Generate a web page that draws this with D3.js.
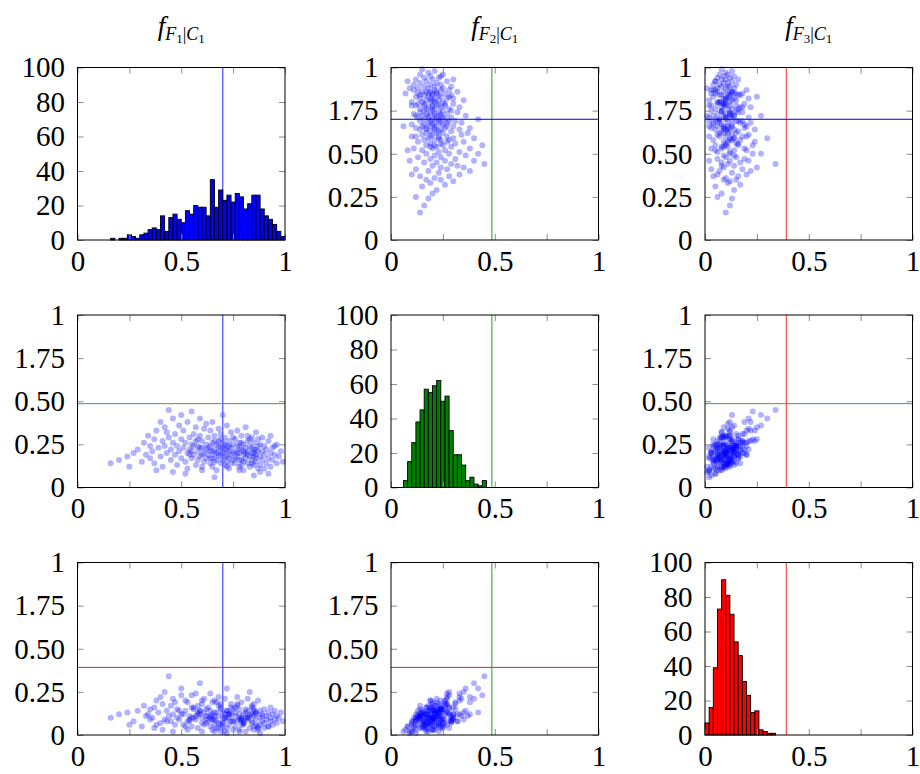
<!DOCTYPE html>
<html><head><meta charset="utf-8">
<script src="https://cdn.jsdelivr.net/npm/d3@7"></script>
<style>body{margin:0;background:#fff}</style>
</head><body>
<svg id="chart" width="920" height="774"></svg>
<script>
// ---------- data ----------
const featureSubscripts = ["1", "2", "3"];
const classSubscript = "1";
const thresholds = [0.70, 0.486, 0.392];
const binWidth = 0.02;
const histStarts = [0.16, 0.06, 0.0];
const f1Counts = [1,0,1,1,3,2,1,3,4,6,7,6,14,5,13,15,12,10,17,15,20,19,19,14,35,19,29,23,26,22,27,25,18,21,26,26,18,14,12,9,5,2];
const f2Counts = [4,15,26,38,45,57,55,59,62,50,53,33,19,19,13,4,6,2,1,4];
const f3Counts = [7,16,39,73,90,81,70,54,46,31,23,13,14,3,2,1,1];
const xTickValues = [0, 0.25, 0.5, 0.75, 1];
const xTickLabels = ["0", "", "0.5", "", "1"];
const histYTicks = [0, 20, 40, 60, 80, 100];
const histYLabels = ["0", "20", "40", "60", "80", "100"];
const scatterYTicks = [0, 0.25, 0.5, 0.75, 1];
const scatterYLabels = ["0", "0.25", "0.50", "1.75", "1"];

const f1Values = [
0.16,0.20,0.24,0.25,0.27,0.29,0.31,0.32,0.33,0.34,0.35,0.35,
0.36,0.37,0.37,0.38,0.39,0.40,0.40,0.41,0.41,0.42, 0.42,0.43,0.44,0.44,0.45,0.45,0.46,0.46,0.47,0.47, 0.48,0.48,0.49,0.49,0.50,0.50,0.50,0.38,0.43,0.46,
0.51,0.51,0.52,0.52,0.53,0.53,0.53,0.54,0.54,0.55, 0.55,0.55,0.56,0.56,0.57,0.57,0.57,0.58,0.58,0.58, 0.59,0.59,0.59,0.60,0.60,0.60,0.61,0.61,0.61,0.62, 0.62,0.62,0.52,0.54,0.56,0.58,0.60,0.62,0.55,0.59,
0.63,0.63,0.64,0.64,0.64,0.64,0.65,0.65,0.65,0.65, 0.66,0.66,0.66,0.67,0.67,0.67,0.68,0.68,0.68,0.68, 0.69,0.69,0.69,0.70,0.70,0.70,0.70,0.71,0.71,0.71, 0.72,0.72,0.72,0.72,0.73,0.73,0.73,0.74,0.74,0.74, 0.75,0.75,0.75,0.63,0.66,0.69,0.71,0.73,0.67,0.70, 0.64,0.68,0.72,0.74,0.65,0.69,0.71,0.73,0.66,0.75,
0.76,0.76,0.76,0.77,0.77,0.77,0.78,0.78,0.78,0.79, 0.79,0.79,0.80,0.80,0.80,0.81,0.81,0.81,0.82,0.82, 0.82,0.83,0.83,0.83,0.84,0.84,0.84,0.85,0.85,0.85, 0.86,0.86,0.86,0.87,0.87,0.87,0.76,0.78,0.80,0.82, 0.84,0.86,0.77,0.79,0.81,0.83,0.85,0.87,0.79,0.84, 0.80,0.86,0.78,0.82,0.85,
0.88,0.88,0.88,0.89,0.89,0.89,0.90,0.90,0.91,0.91, 0.92,0.92,0.93,0.93,0.94,0.94,0.95,0.96,0.96,0.97, 0.98,0.99,0.90,0.93,0.95,
0.85,0.66,0.92,0.88,0.78,0.72,0.60];
const f2Values = [
0.14,0.16,0.18,0.12,0.20,0.22,0.15,0.26,0.19,0.30,0.17,0.24,
0.21,0.28,0.14,0.33,0.23,0.38,0.18,0.27,0.12,0.24, 0.35,0.20,0.45,0.29,0.16,0.22,0.40,0.26,0.19,0.31, 0.13,0.24,0.36,0.21,0.28,0.17,0.42,0.10,0.32,0.09,
0.23,0.33,0.15,0.26,0.20,0.38,0.11,0.29,0.22,0.17, 0.44,0.25,0.31,0.19,0.13,0.27,0.35,0.21,0.16,0.24, 0.30,0.18,0.40,0.23,0.12,0.27,0.20,0.34,0.15,0.25, 0.22,0.37,0.08,0.19,0.24,0.28,0.19,0.17,0.21,0.23,
0.19,0.29,0.14,0.24,0.33,0.21,0.17,0.26,0.12,0.38, 0.22,0.19,0.30,0.16,0.25,0.10,0.21,0.34,0.18,0.27, 0.14,0.23,0.31,0.20,0.26,0.16,0.42,0.22,0.13,0.29, 0.18,0.24,0.36,0.15,0.21,0.27,0.11,0.19,0.32,0.23, 0.16,0.25,0.20,0.23,0.27,0.19,0.25,0.17,0.20,0.23, 0.17,0.24,0.21,0.14,0.21,0.28,0.18,0.24,0.15,0.29,
0.21,0.14,0.28,0.18,0.24,0.33,0.12,0.20,0.26,0.16, 0.22,0.30,0.19,0.25,0.10,0.17,0.23,0.35,0.14,0.21, 0.27,0.18,0.24,0.12,0.20,0.29,0.16,0.22,0.13,0.26, 0.19,0.32,0.15,0.21,0.24,0.11,0.17,0.23,0.15,0.19, 0.23,0.17,0.20,0.26,0.20,0.28,0.18,0.28,0.13,0.14, 0.21,0.22,0.16,0.30,0.20,
0.18,0.25,0.13,0.21,0.29,0.16,0.19,0.24,0.14,0.22, 0.17,0.27,0.20,0.12,0.23,0.16,0.19,0.14,0.25,0.18, 0.21,0.15,0.11,0.30,0.24,
0.07,0.06,0.08,0.09,0.10,0.12,0.10];
const f3Values = [
0.10,0.12,0.13,0.06,0.08,0.14,0.05,0.17,0.11,0.12,0.09,0.15,
0.10,0.16,0.04,0.20,0.13,0.22,0.07,0.18,0.03,0.09, 0.25,0.14,0.34,0.11,0.08,0.17,0.21,0.12,0.06,0.19, 0.10,0.15,0.14,0.09,0.23,0.12,0.27,0.06,0.08,0.02,
0.06,0.12,0.14,0.20,0.03,0.19,0.08,0.09,0.11,0.16, 0.23,0.05,0.15,0.10,0.11,0.24,0.09,0.13,0.04,0.17, 0.12,0.14,0.30,0.07,0.10,0.18,0.06,0.21,0.13,0.09, 0.15,0.11,0.05,0.08,0.16,0.12,0.20,0.07,0.10,0.14,
0.16,0.08,0.11,0.05,0.24,0.14,0.03,0.19,0.09,0.12, 0.06,0.20,0.09,0.13,0.04,0.08,0.17,0.11,0.07,0.22, 0.15,0.02,0.18,0.10,0.07,0.05,0.13,0.21,0.12,0.10, 0.14,0.09,0.27,0.04,0.12,0.06,0.10,0.16,0.08,0.18, 0.08,0.15,0.03,0.11,0.13,0.06,0.10,0.12,0.19,0.07, 0.10,0.04,0.14,0.12,0.09,0.16,0.02,0.13,0.11,0.08,
0.05,0.11,0.13,0.17,0.08,0.22,0.09,0.03,0.15,0.06, 0.19,0.10,0.12,0.06,0.07,0.02,0.15,0.13,0.10,0.09, 0.21,0.04,0.11,0.12,0.16,0.07,0.08,0.05,0.14,0.18, 0.09,0.12,0.13,0.03,0.20,0.05,0.16,0.10,0.07,0.14, 0.12,0.06,0.18,0.09,0.10,0.25,0.11,0.04,0.09,0.17, 0.08,0.13,0.12,0.10,0.15,
0.10,0.14,0.06,0.12,0.08,0.11,0.07,0.15,0.09,0.11, 0.05,0.13,0.10,0.08,0.12,0.06,0.09,0.11,0.07,0.10, 0.13,0.08,0.04,0.16,0.14,
0.03,0.02,0.05,0.01,0.02,0.01,0.02];

// ---------- styles / layout ----------
const featureValues = [f1Values, f2Values, f3Values];
const histCounts = [f1Counts, f2Counts, f3Counts];
const histColors = ["#0000ff", "#008000", "#ff0000"];
const vLineColors = ["#5555ff", "#55b455", "#ff5a5a"];
const hLineColors = ["#0000c0", "#44a044", "#d42a2a"];
const serif = "'Liberation Serif','Times New Roman',serif";
const colX = [77.5, 391, 705], rowY = [67.5, 315, 562.5];
const W = 207.5, H = 172.5;
const tickLen = 6;

const svg = d3.select("#chart");

for (let i = 0; i < 3; i++) {
  for (let j = 0; j < 3; j++) {
    const isHist = i === j;
    const g = svg.append("g");
    const x = d3.scaleLinear().domain([0, 1]).range([colX[j], colX[j] + W]);
    const y = d3.scaleLinear().domain(isHist ? [0, 100] : [0, 1]).range([rowY[i] + H, rowY[i]]);
    const yTicks = isHist ? histYTicks : scatterYTicks;
    const yLabels = isHist ? histYLabels : scatterYLabels;

    const vline = () => g.append("line")
      .attr("x1", x(thresholds[j])).attr("x2", x(thresholds[j]))
      .attr("y1", rowY[i]).attr("y2", rowY[i] + H)
      .attr("stroke", vLineColors[j]).attr("stroke-width", 1.3);

    if (isHist) {
      vline();
      const bins = histCounts[j].map((c, k) => ({x0: histStarts[j] + k * binWidth, c}));
      g.selectAll("rect.bar").data(bins).join("rect").attr("class", "bar")
        .attr("x", d => x(d.x0))
        .attr("width", d => x(d.x0 + binWidth) - x(d.x0))
        .attr("y", d => y(d.c))
        .attr("height", d => y(0) - y(d.c))
        .attr("fill", histColors[j])
        .attr("stroke", "#000").attr("stroke-width", 0.9);
    } else {
      g.selectAll("circle").data(d3.range(f1Values.length)).join("circle")
        .attr("cx", k => x(featureValues[j][k]))
        .attr("cy", k => y(featureValues[i][k]))
        .attr("r", 3)
        .attr("fill", "#0000ff").attr("fill-opacity", 0.3);
      vline();
      g.append("line")
        .attr("x1", colX[j]).attr("x2", colX[j] + W)
        .attr("y1", y(thresholds[i])).attr("y2", y(thresholds[i]))
        .attr("stroke", hLineColors[i]).attr("stroke-width", 1);
    }

    // axes (inward ticks)
    const bottom = g.append("g").attr("transform", `translate(0,${rowY[i] + H})`)
      .call(d3.axisBottom(x).tickValues(xTickValues).tickFormat((d, k) => xTickLabels[k])
        .tickSizeInner(-tickLen).tickSizeOuter(0).tickPadding(10));
    const top = g.append("g").attr("transform", `translate(0,${rowY[i]})`)
      .call(d3.axisTop(x).tickValues(xTickValues).tickFormat("")
        .tickSizeInner(-tickLen).tickSizeOuter(0));
    const left = g.append("g").attr("transform", `translate(${colX[j]},0)`)
      .call(d3.axisLeft(y).tickValues(yTicks).tickFormat((d, k) => yLabels[k])
        .tickSizeInner(-tickLen).tickSizeOuter(0).tickPadding(12.5));
    const right = g.append("g").attr("transform", `translate(${colX[j] + W},0)`)
      .call(d3.axisRight(y).tickValues(yTicks).tickFormat("")
        .tickSizeInner(-tickLen).tickSizeOuter(0));
    [bottom, top, left, right].forEach(a => {
      a.select(".domain").remove();
      a.selectAll(".tick line").attr("stroke", "#8c8c8c").attr("stroke-width", 1);
      a.selectAll(".tick text").attr("fill", "#000").attr("font-family", serif).attr("font-size", 29);
    });

    g.append("rect").attr("x", colX[j]).attr("y", rowY[i]).attr("width", W).attr("height", H)
      .attr("fill", "none").attr("stroke", "#000").attr("stroke-width", 1);
  }
}

// column titles f_{F_j|C_1}
featureSubscripts.forEach((s, j) => {
  const t = svg.append("text")
    .attr("x", colX[j] + W / 2).attr("y", 35)
    .attr("text-anchor", "middle")
    .attr("font-family", serif).attr("font-size", 27);
  t.append("tspan").attr("font-style", "italic").text("f");
  t.append("tspan").attr("font-style", "italic").attr("font-size", 18).attr("dy", 5).text("F");
  t.append("tspan").attr("font-size", 13).attr("dy", 3).text(s);
  t.append("tspan").attr("font-size", 18).attr("dy", -3).text("|");
  t.append("tspan").attr("font-style", "italic").attr("font-size", 18).text("C");
  t.append("tspan").attr("font-size", 13).attr("dy", 3).text(classSubscript);
});
</script>
</body></html>
